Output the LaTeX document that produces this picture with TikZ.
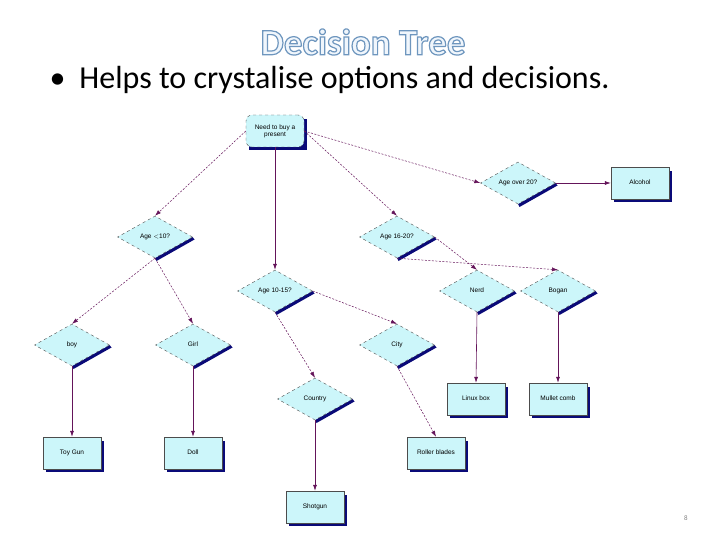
\documentclass[tikz,border=0pt]{standalone}
\usepackage{fontspec}
\setmainfont{Carlito}
\newfontfamily\nodefont{Liberation Sans}
\usetikzlibrary{shapes.geometric,arrows.meta,calc}
\definecolor{boxfill}{RGB}{204,246,250}
\definecolor{navyshd}{RGB}{10,10,120}
\definecolor{arr}{RGB}{100,20,90}
\definecolor{titleblue}{RGB}{110,150,190}
\definecolor{titlefill}{RGB}{240,246,252}
\tikzset{
  dec/.style={diamond,aspect=1.8,minimum width=75pt,minimum height=42pt,inner sep=0pt,text height=5pt,text depth=1.5pt,draw=black!70,dashed,line width=0.4pt,fill=boxfill,font=\nodefont\fontsize{6.5}{7}\selectfont},
  term/.style={rectangle,minimum width=58pt,minimum height=32pt,text height=5pt,text depth=1.5pt,draw=black!70,line width=0.4pt,fill=boxfill,font=\nodefont\fontsize{6.5}{7}\selectfont},
  rootbox/.style={rectangle,minimum width=58pt,minimum height=32pt,draw=black!70,line width=0.4pt,fill=boxfill,font=\nodefont\fontsize{6.5}{7}\selectfont,rounded corners=6pt,align=center,dashed},
  sol/.style={draw=arr,line width=0.6pt,-{Latex[length=6pt,width=4pt]}},
  dsh/.style={sol,dash pattern=on 2pt off 1.5pt,line width=0.5pt},
  ttl/.style={font=\bfseries\fontsize{37}{40}\selectfont},
}
\begin{document}
\begin{tikzpicture}[x=1pt,y=-1pt]
\useasboundingbox (0,0) rectangle (720,540);
\node[ttl,text=titlefill] (title) at (363,42) {\pgfsetstrokecolor{titleblue}\special{pdf:literal direct 2 Tr 1.2 w}Decision Tree\special{pdf:literal direct 0 Tr}};
\node[anchor=west,font=\fontsize{32}{35}\selectfont] (bul) at (46,80) {\textbullet\hspace{14pt}Helps to crystalise options and decisions.};
\node[font=\fontsize{7}{8}\selectfont,text=black!50] (num) at (686,518) {8};
% shadows
\foreach \p in {{275,131},{640,183},{476,399},{558,399},{72,453},{193,453},{436,453},{315,507}}
  \fill[navyshd] ($(\p)+(-26,-12)$) rectangle ($(\p)+(32,19)$);
\foreach \p in {{518,183},{155,237},{397,237},{275,291},{477,291},{558,291},{72,345},{193,345},{397,345},{315,399}}
  \fill[navyshd] ($(\p)+(0,21)$) -- ($(\p)+(37.5,0)$) -- ($(\p)+(39.5,2.5)$) -- ($(\p)+(1.5,24)$) -- cycle;
\node[rootbox] (root) at (275,131) {Need to buy a\\present};
\node[dec] (a20) at (518,183) {Age over 20?};
\node[term] (alc) at (640,183) {Alcohol};
\node[dec] (a10) at (155,237) {Age $<$10?};
\node[dec] (a16) at (397,237) {Age 16-20?};
\node[dec] (a15) at (275,291) {Age 10-15?};
\node[dec] (nerd) at (477,291) {Nerd};
\node[dec] (bogan) at (558,291) {Bogan};
\node[dec] (boy) at (72,345) {boy};
\node[dec] (girl) at (193,345) {Girl};
\node[dec] (city) at (397,345) {City};
\node[dec] (country) at (315,399) {Country};
\node[term] (linux) at (476,399) {Linux box};
\node[term] (mullet) at (558,399) {Mullet comb};
\node[term] (toy) at (72,453) {Toy Gun};
\node[term] (doll) at (193,453) {Doll};
\node[term] (roller) at (436,453) {Roller blades};
\node[term] (shot) at (315,507) {Shotgun};
% edges
\draw[dsh] (root.west) -- (a10.north);
\draw[sol] (root.south) -- (a15.north);
\draw[dsh] (root.east) -- (a16.north);
\draw[dsh] (root.east) -- (a20.west);
\draw[sol] (a20.east) -- (alc.west);
\draw[dsh] (a16.east) -- (nerd.north);
\draw[dsh] (a16.south) -- (bogan.north);
\draw[sol] (nerd.south) -- (linux.north);
\draw[sol] (bogan.south) -- (mullet.north);
\draw[dsh] (a10.south) -- (boy.north);
\draw[dsh] (a10.south) -- (girl.north);
\draw[sol] (boy.south) -- (toy.north);
\draw[sol] (girl.south) -- (doll.north);
\draw[dsh] (a15.east) -- (city.north);
\draw[dsh] (a15.south) -- (country.north);
\draw[sol] (country.south) -- (shot.north);
\draw[dsh] (city.south) -- (roller.north);
\end{tikzpicture}
\end{document}
